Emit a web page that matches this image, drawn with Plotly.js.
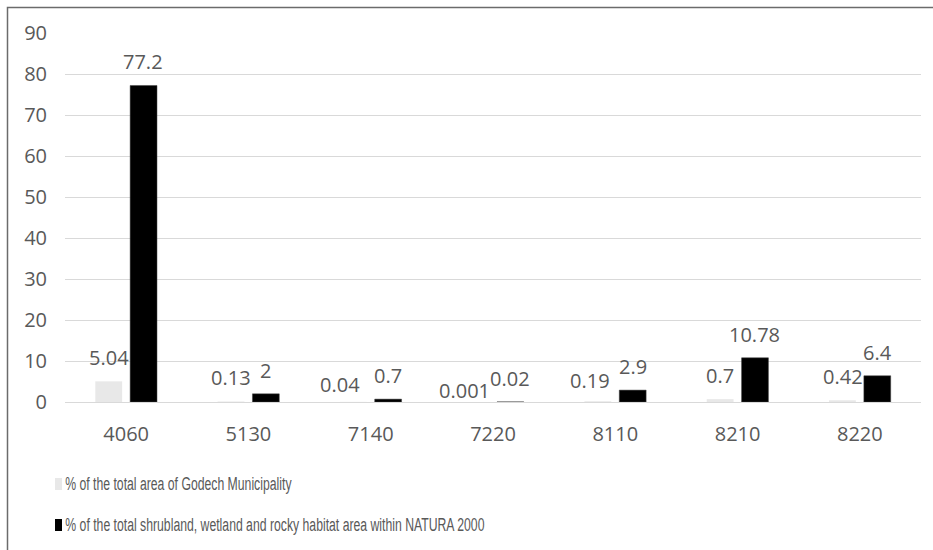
<!DOCTYPE html>
<html>
<head>
<meta charset="utf-8">
<script src="https://cdn.plot.ly/plotly-3.0.1.min.js"></script>
<style>html,body{margin:0;padding:0;background:#fff;}#chart{width:933px;height:550px;}
.legtext text{transform-box:fill-box;transform-origin:left center;transform:scaleX(0.68);}
</style>
</head>
<body>
<div id="chart"></div>
<script>
const categories = ["4060", "5130", "7140", "7220", "8110", "8210", "8220"];
const municipalityValues = [5.04, 0.13, 0.04, 0.001, 0.19, 0.7, 0.42];
const natura2000Values = [77.2, 2, 0.7, 0.02, 2.9, 10.78, 6.4];
const municipalityLabels = ["5.04", "0.13", "0.04", "0.001", "0.19", "0.7", "0.42"];
const naturaLabels = ["77.2", "2", "0.7", "0.02", "2.9", "10.78", "6.4"];
const seriesNames = [
  "% of the total area of Godech Municipality",
  "% of the total shrubland, wetland and rocky habitat area within NATURA 2000"
];
const yTicks = [0, 10, 20, 30, 40, 50, 60, 70, 80, 90];

// layout-only label nudges (pixels) to mimic the reference's overlap avoidance
const municipalityNudgeX = [0, 0, -13, -11, -8, 0, 0];
const municipalityNudgeY = [0, 0, -6, -12, -3, 0, 0];

const colors = ["#e8e8e8", "#000000"];
const W = 933, H = 550;
const M = {l: 65, r: 12, t: 33, b: 148};
const PW = W - M.l - M.r, PH = H - M.t - M.b;
const px = x => (x - M.l) / PW;
const py = y => (H - M.b - y) / PH;

const traces = [
  {type: "bar", x: categories, y: municipalityValues, name: seriesNames[0],
   marker: {color: colors[0], line: {width: 0}}, showlegend: false},
  {type: "bar", x: categories, y: natura2000Values, name: seriesNames[1],
   marker: {color: colors[1], line: {color: "#404040", width: 0.5}}, showlegend: false}
];

const labelFont = {family: "Open Sans, sans-serif", size: 20, color: "#595959"};
const annotations = [];
const shift = 17.25;
municipalityValues.forEach((v, i) => {
  annotations.push({x: i, y: v, xref: "x", yref: "y", text: municipalityLabels[i],
    showarrow: false, xshift: -shift + municipalityNudgeX[i], yshift: 8 + municipalityNudgeY[i],
    yanchor: "bottom", font: labelFont});
});
natura2000Values.forEach((v, i) => {
  annotations.push({x: i, y: v, xref: "x", yref: "y", text: naturaLabels[i],
    showarrow: false, xshift: shift, yshift: 8, yanchor: "bottom", font: labelFont});
});

// manual legend
const legendFont = {family: "Liberation Sans, Arial, sans-serif", size: 18, color: "#595959"};
const legendY = [484, 525];
const shapes = [];
seriesNames.forEach((n, i) => {
  shapes.push({type: "rect", xref: "paper", yref: "paper",
    x0: px(55), x1: px(62), y0: py(legendY[i] + 6), y1: py(legendY[i] - 6),
    fillcolor: colors[i], line: {width: 0}});
  annotations.push({xref: "paper", yref: "paper", x: px(63), y: py(legendY[i]),
    xanchor: "left", yanchor: "middle", text: n, showarrow: false, font: legendFont});
});
// outer border
shapes.push({type: "rect", xref: "paper", yref: "paper",
  x0: px(7.5), x1: px(945), y0: py(560), y1: py(7.5),
  line: {color: "#6b6b6b", width: 1.5}, fillcolor: "rgba(0,0,0,0)", layer: "above"});

const layout = {
  width: W, height: H,
  margin: M,
  paper_bgcolor: "#ffffff", plot_bgcolor: "#ffffff",
  barmode: "group", bargap: 0.43, bargroupgap: 0.23,
  showlegend: false,
  xaxis: {type: "category", range: [-0.5, categories.length - 0.5],
    tickfont: {family: "Open Sans, sans-serif", size: 20, color: "#595959"},
    showgrid: false, zeroline: false, showline: false, ticks: "", ticklabelstandoff: 18, fixedrange: true},
  yaxis: {range: [0, 90], tickvals: yTicks, ticktext: yTicks.map(String),
    tickfont: {family: "Open Sans, sans-serif", size: 20, color: "#595959"},
    showgrid: true, gridcolor: "#d9d9d9", gridwidth: 1, zeroline: true, zerolinecolor: "#d9d9d9", zerolinewidth: 1,
    showline: false, ticks: "", ticklabelstandoff: 17, fixedrange: true},
  annotations: annotations,
  shapes: shapes,
  font: {family: "Open Sans, sans-serif", color: "#595959"}
};

Plotly.newPlot("chart", traces, layout, {displayModeBar: false, staticPlot: true}).then(() => {
  const groups = document.querySelectorAll("#chart .annotation");
  groups.forEach(g => {
    const t = g.querySelector("text");
    if (t && t.textContent.startsWith("% of")) g.classList.add("legtext");
  });
});
</script>
</body>
</html>
